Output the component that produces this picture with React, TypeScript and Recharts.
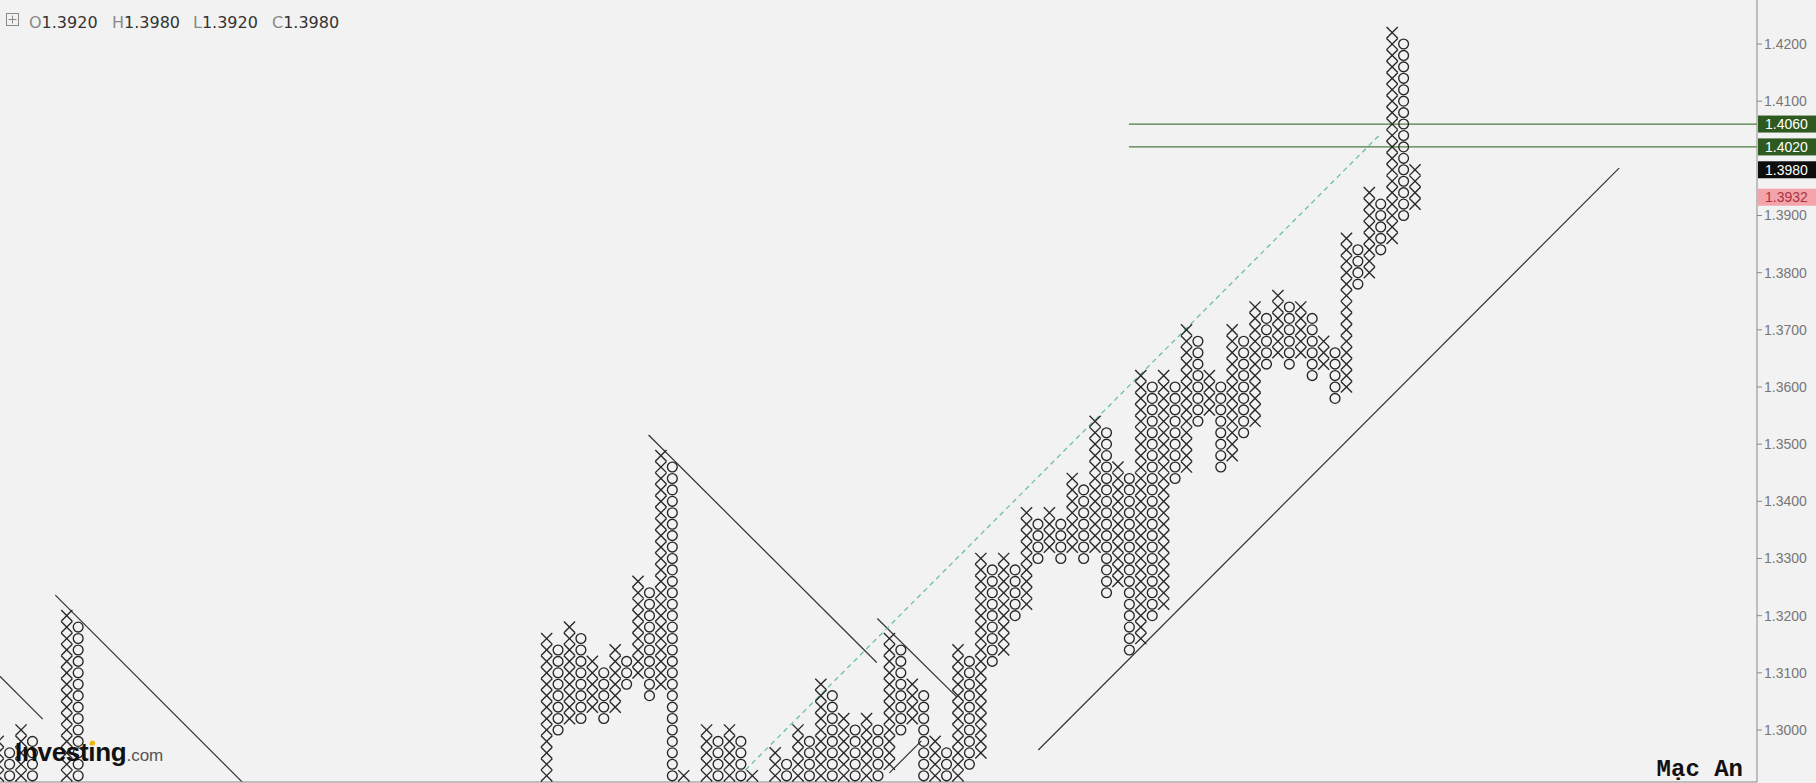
import { ComposedChart, Scatter, XAxis, YAxis, ReferenceLine } from 'recharts';

// point & figure columns, in time order (col = column slot, gaps are columns below the view)
const COL_POS = [0, 1, 2, 3, 6, 7, 48, 49, 50, 51, 52, 53, 54, 55, 56, 57, 58, 59, 60, 62, 63, 64, 65, 66, 68, 69, 70, 71, 72, 73, 74, 75, 76, 77, 78, 79, 80, 81, 82, 83, 84, 85, 86, 87, 88, 89, 90, 91, 92, 93, 94, 95, 96, 97, 98, 99, 100, 101, 102, 103, 104, 105, 106, 107, 108, 109, 110, 111, 112, 113, 114, 115, 116, 117, 118, 119, 120, 121, 122, 123, 124];
const COL_TYPE = ['X', 'O', 'X', 'O', 'X', 'O', 'X', 'O', 'X', 'O', 'X', 'O', 'X', 'O', 'X', 'O', 'X', 'O', 'X', 'X', 'O', 'X', 'O', 'X', 'X', 'O', 'X', 'O', 'X', 'O', 'X', 'O', 'X', 'O', 'X', 'O', 'X', 'O', 'X', 'O', 'X', 'O', 'X', 'O', 'X', 'O', 'X', 'O', 'X', 'O', 'X', 'O', 'X', 'O', 'X', 'O', 'X', 'O', 'X', 'O', 'X', 'O', 'X', 'O', 'X', 'O', 'X', 'O', 'X', 'O', 'X', 'O', 'X', 'O', 'X', 'O', 'X', 'O', 'X', 'O', 'X'];
const COL_LOW = [1.286, 1.284, 1.286, 1.284, 1.286, 1.284, 1.286, 1.300, 1.302, 1.302, 1.304, 1.302, 1.304, 1.308, 1.310, 1.306, 1.308, 1.284, 1.286, 1.286, 1.284, 1.286, 1.284, 1.286, 1.286, 1.284, 1.286, 1.284, 1.286, 1.284, 1.286, 1.284, 1.286, 1.292, 1.294, 1.300, 1.302, 1.284, 1.286, 1.284, 1.286, 1.294, 1.296, 1.312, 1.314, 1.320, 1.322, 1.330, 1.332, 1.330, 1.332, 1.330, 1.332, 1.324, 1.326, 1.314, 1.316, 1.320, 1.322, 1.344, 1.346, 1.354, 1.356, 1.346, 1.348, 1.352, 1.354, 1.364, 1.366, 1.364, 1.366, 1.362, 1.364, 1.358, 1.360, 1.378, 1.380, 1.384, 1.386, 1.390, 1.392];
const COL_HIGH = [1.298, 1.296, 1.300, 1.298, 1.320, 1.318, 1.316, 1.314, 1.318, 1.316, 1.312, 1.310, 1.314, 1.312, 1.326, 1.324, 1.348, 1.346, 1.292, 1.300, 1.298, 1.300, 1.298, 1.292, 1.296, 1.294, 1.300, 1.298, 1.308, 1.306, 1.302, 1.300, 1.302, 1.300, 1.316, 1.314, 1.308, 1.306, 1.298, 1.296, 1.314, 1.312, 1.330, 1.328, 1.330, 1.328, 1.338, 1.336, 1.338, 1.336, 1.344, 1.342, 1.354, 1.352, 1.346, 1.344, 1.362, 1.360, 1.362, 1.360, 1.370, 1.368, 1.362, 1.360, 1.370, 1.368, 1.374, 1.372, 1.376, 1.374, 1.374, 1.372, 1.368, 1.366, 1.386, 1.384, 1.394, 1.392, 1.422, 1.420, 1.398];

const BOX = 0.002;
const PRICE_TICKS = [1.30, 1.31, 1.32, 1.33, 1.34, 1.35, 1.36, 1.37, 1.38, 1.39, 1.41, 1.42];

// drawn trend lines, in (column, price)
const TREND_LINES = [
  { x1: -2, y1: 1.3137, x2: 3.9, y2: 1.3019 },
  { x1: 5.0, y1: 1.3236, x2: 22, y2: 1.2896 },
  { x1: 56.92, y1: 1.3516, x2: 76.89, y2: 1.3118 },
  { x1: 76.94, y1: 1.3195, x2: 83.89, y2: 1.3058 },
  { x1: 78.0, y1: 1.2925, x2: 80.8, y2: 1.2981 },
  { x1: 91.03, y1: 1.2965, x2: 141.86, y2: 1.3983 },
];
const DASH_LINE = { x1: 65.4, y1: 1.293, x2: 121.0, y2: 1.4043 };
const LEVEL_LINES = [1.406, 1.402];
const LEVEL_START = 98.97;

const PRICE_TAGS = [
  { value: 1.406, text: '1.4060', bg: '#2f5a1f', fg: '#ffffff' },
  { value: 1.402, text: '1.4020', bg: '#2f5a1f', fg: '#ffffff' },
  { value: 1.398, text: '1.3980', bg: '#0d0d0d', fg: '#ffffff' },
  { value: 1.3932, text: '1.3932', bg: '#f4a3ab', fg: '#a8323e' },
];

const X_DOMAIN: [number, number] = [0.158, 153.93];
const Y_DOMAIN: [number, number] = [1.2909, 1.4277];

const boxes: { c: number; p: number; t: string }[] = [];
COL_POS.forEach((c, i) => {
  const lo = Math.round(COL_LOW[i] * 1000);
  const hi = Math.round(COL_HIGH[i] * 1000);
  for (let v = lo; v <= hi; v += BOX * 1000) {
    boxes.push({ c, p: v / 1000, t: COL_TYPE[i] });
  }
});

const INK = '#262626';

function BoxMark(props: any) {
  const { cx, cy, payload } = props;
  if (cx == null || cy == null) return null;
  if (payload.t === 'X') {
    const h = 5.6;
    return (
      <g stroke={INK} strokeWidth={1.35}>
        <line x1={cx - h} y1={cy - h} x2={cx + h} y2={cy + h} />
        <line x1={cx - h} y1={cy + h} x2={cx + h} y2={cy - h} />
      </g>
    );
  }
  return <circle cx={cx} cy={cy} r={4.9} fill="none" stroke={INK} strokeWidth={1.35} />;
}

function PriceTag(props: any) {
  const { viewBox, text, bg, fg } = props;
  if (!viewBox) return null;
  const x = viewBox.x + viewBox.width + 1;
  const y = viewBox.y;
  return (
    <g>
      <rect x={x} y={y - 8.5} width={58} height={17} fill={bg} />
      <text x={x + 7} y={y} dy="0.36em" fill={fg} fontSize={14} fontFamily="Liberation Sans, Arial">
        {text}
      </text>
    </g>
  );
}

export default function App() {
  return (
    <div style={{ position: 'absolute', left: 0, top: 0, width: 1816, height: 783, background: '#f2f2f2' }}>
      <ComposedChart width={1816} height={783} data={boxes} margin={{ top: 0, right: 0, bottom: 0, left: 0 }}>
        <XAxis
          type="number"
          dataKey="c"
          domain={X_DOMAIN}
          allowDataOverflow
          tick={false}
          tickLine={false}
          height={1}
          axisLine={{ stroke: '#8a8a8a' }}
        />
        <YAxis
          type="number"
          dataKey="p"
          orientation="right"
          domain={Y_DOMAIN}
          allowDataOverflow
          ticks={PRICE_TICKS}
          interval={0}
          width={59}
          tickSize={5}
          tickFormatter={(v: number) => v.toFixed(4)}
          axisLine={{ stroke: '#8a8a8a' }}
          tickLine={{ stroke: '#8a8a8a' }}
          tick={{ fill: '#777', fontSize: 14, fontFamily: 'Liberation Sans, Arial' }}
        />
        {TREND_LINES.map((l, i) => (
          <ReferenceLine
            key={'t' + i}
            segment={[{ x: l.x1, y: l.y1 }, { x: l.x2, y: l.y2 }]}
            stroke="#333"
            strokeWidth={1.2}
            ifOverflow="hidden"
          />
        ))}
        <ReferenceLine
          segment={[{ x: DASH_LINE.x1, y: DASH_LINE.y1 }, { x: DASH_LINE.x2, y: DASH_LINE.y2 }]}
          stroke="#6cc0a4"
          strokeWidth={1.3}
          strokeDasharray="5 4"
          ifOverflow="hidden"
        />
        {LEVEL_LINES.map((v) => (
          <ReferenceLine
            key={'l' + v}
            segment={[{ x: LEVEL_START, y: v }, { x: X_DOMAIN[1], y: v }]}
            stroke="#4c7a40"
            strokeWidth={1.2}
            ifOverflow="hidden"
          />
        ))}
        <Scatter dataKey="p" isAnimationActive={false} shape={BoxMark} />
        {PRICE_TAGS.map((tag) => (
          <ReferenceLine
            key={tag.text}
            y={tag.value}
            stroke="none"
            label={(p: any) => <PriceTag {...p} text={tag.text} bg={tag.bg} fg={tag.fg} />}
          />
        ))}
      </ComposedChart>
      <svg
        width={1816}
        height={783}
        style={{ position: 'absolute', left: 0, top: 0, pointerEvents: 'none' }}
      >
        <rect x={6.5} y={13.5} width={12} height={12} fill="none" stroke="#8a8a8a" />
        <line x1={12.5} y1={15.5} x2={12.5} y2={23.5} stroke="#8a8a8a" />
        <line x1={8.5} y1={19.5} x2={16.5} y2={19.5} stroke="#8a8a8a" />
        <g fontFamily="DejaVu Sans" fontSize={16}>
          <text x={29} y={28}><tspan fill="#888">O</tspan><tspan fill="#333">1.3920</tspan></text>
          <text x={112} y={28}><tspan fill="#888">H</tspan><tspan fill="#333">1.3980</tspan></text>
          <text x={193} y={28}><tspan fill="#888">L</tspan><tspan fill="#333">1.3920</tspan></text>
          <text x={272} y={28}><tspan fill="#888">C</tspan><tspan fill="#333">1.3980</tspan></text>
        </g>
        <text x={15} y={761} fontFamily="Liberation Sans, Arial" fontWeight="bold" fontSize={26} fill="#111" letterSpacing={-0.3}>
          Investing
          <tspan fontWeight="normal" fontSize={17} fill="#555" letterSpacing={0}>.com</tspan>
        </text>
        <circle cx={92.5} cy={743} r={2.6} fill="#f2b705" />
        <text x={1743} y={776} textAnchor="end" fontFamily="Liberation Mono, Courier New" fontWeight="bold" fontSize={24} fill="#111">
          Mạc An
        </text>
      </svg>
    </div>
  );
}
